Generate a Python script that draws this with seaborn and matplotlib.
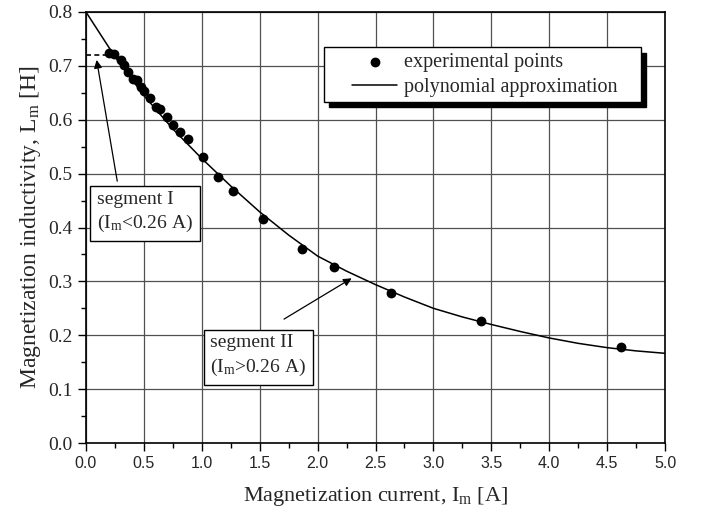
import numpy as np
import pandas as pd
import matplotlib
matplotlib.use("Agg")
import matplotlib.pyplot as plt
import seaborn as sns
from matplotlib.ticker import MultipleLocator
from matplotlib.patches import Rectangle

# ---------------- data ----------------
x_exp = [0.20, 0.245, 0.30, 0.328, 0.363, 0.405, 0.44, 0.472, 0.50, 0.55,
         0.607, 0.636, 0.70, 0.754, 0.81, 0.883, 1.01, 1.14, 1.266, 1.525,
         1.862, 2.138, 2.636, 3.41, 4.62]
y_exp = [0.724, 0.722, 0.710, 0.701, 0.688, 0.676, 0.673, 0.660, 0.654, 0.640,
         0.623, 0.620, 0.605, 0.590, 0.578, 0.564, 0.530, 0.493, 0.468, 0.415,
         0.361, 0.327, 0.278, 0.227, 0.178]

x_fit = [0.0, 0.25, 0.5, 0.75, 1.0, 1.25, 1.5, 1.75, 2.0, 2.25, 2.5,
         2.75, 3.0, 3.25, 3.5, 3.75, 4.0, 4.25, 4.5, 4.75, 5.0]
y_fit = [0.800, 0.717, 0.645, 0.583, 0.528, 0.477, 0.429, 0.386, 0.347, 0.319, 0.294,
         0.271, 0.250, 0.234, 0.220, 0.207, 0.195, 0.185, 0.177, 0.171, 0.1665]

seg1_level = 0.72
seg1_x = [0.0, 0.19]

x_ticks = [0.0, 0.5, 1.0, 1.5, 2.0, 2.5, 3.0, 3.5, 4.0, 4.5, 5.0]
y_ticks = [0.0, 0.1, 0.2, 0.3, 0.4, 0.5, 0.6, 0.7, 0.8]

df_exp = pd.DataFrame({"x": x_exp, "y": y_exp})
df_fit = pd.DataFrame({"x": x_fit, "y": y_fit})

# ---------------- style ----------------
sns.set_style("ticks")
plt.rcParams["font.family"] = ["Liberation Serif", "DejaVu Serif"]
plt.rcParams["mathtext.fontset"] = "custom"
plt.rcParams["mathtext.rm"] = "Liberation Serif"

fig = plt.figure(figsize=(7.03, 5.17), dpi=100)
ax = fig.add_axes([0.1223, 0.1431, 0.8237, 0.8337])

ax.set_xlim(0, 5.0)
ax.set_ylim(0, 0.8)

# grid
ax.set_xticks(x_ticks)
ax.set_yticks(y_ticks)
ax.xaxis.set_minor_locator(MultipleLocator(0.25))
ax.yaxis.set_minor_locator(MultipleLocator(0.05))
ax.grid(True, which="major", color="#505050", linewidth=0.9)
ax.set_axisbelow(True)

# curve and points
sns.lineplot(data=df_fit, x="x", y="y", ax=ax, color="black", linewidth=1.1,
             label="polynomial approximation", zorder=3)
sns.scatterplot(data=df_exp, x="x", y="y", ax=ax, color="black", s=50,
                edgecolor="black", linewidth=0, label="experimental points", zorder=4)

# dashed segment I line
ax.plot(seg1_x, [seg1_level, seg1_level], color="black", linestyle=(0, (3, 2)),
        linewidth=1.2, zorder=3)

# spines / ticks
for sp in ax.spines.values():
    sp.set_color("black")
    sp.set_linewidth(1.2)
ax.tick_params(axis="both", which="major", direction="out", length=6, width=1.0, color="black")
ax.tick_params(axis="both", which="minor", direction="out", length=3.5, width=1.0, color="black")

ax.set_xticklabels([f"{v:.1f}" for v in x_ticks],
                   fontfamily=["Liberation Sans", "DejaVu Sans"], fontsize=11.5)
ax.set_yticklabels([f"{v:.1f}" for v in y_ticks], fontsize=14)

ax.set_xlabel(r"Magnetization current, $\mathregular{I_m}$ [A]", fontsize=16, labelpad=10)
ax.set_ylabel(r"Magnetization inductivity, $\mathregular{L_m}$ [H]", fontsize=17, labelpad=4)

# legend frame with solid shadow
ax.add_patch(Rectangle((0.420, 0.779), 0.547, 0.126, transform=ax.transAxes,
                       facecolor="black", edgecolor="black", zorder=6, clip_on=False))
ax.add_patch(Rectangle((0.411, 0.792), 0.547, 0.126, transform=ax.transAxes,
                       facecolor="white", edgecolor="black", linewidth=1.0, zorder=6.5,
                       clip_on=False))

handles, labels = ax.get_legend_handles_labels()
order = [labels.index("experimental points"), labels.index("polynomial approximation")]
leg = ax.legend([handles[i] for i in order], [labels[i] for i in order],
                loc="upper left", bbox_to_anchor=(0.4594, 0.905),
                frameon=False, fontsize=14.5, handlelength=2.25, handletextpad=0.35,
                labelspacing=0.3, borderpad=0, borderaxespad=0)
leg.set_zorder(7)

# annotations
box = dict(boxstyle="square,pad=0.35", facecolor="white", edgecolor="black", linewidth=1.0)
arrow = dict(arrowstyle="-|>", color="black", linewidth=0.9, mutation_scale=12,
             shrinkA=0, shrinkB=0)

ax.annotate("", xy=(0.092, 0.711), xytext=(0.27, 0.486), arrowprops=arrow, zorder=5)
ax.text(0.095, 0.4278, "segment I\n(" + r"$\mathregular{I_m}$" + "<0.26 A)",
        fontsize=14, ha="left", va="center", bbox=box, linespacing=1.35, zorder=6)

ax.annotate("", xy=(2.294, 0.3057), xytext=(1.71, 0.230), arrowprops=arrow, zorder=5)
ax.text(1.075, 0.1615, "segment II\n(" + r"$\mathregular{I_m}$" + ">0.26 A)",
        fontsize=14, ha="left", va="center", bbox=box, linespacing=1.35, zorder=6)

fig.savefig("out.png", dpi=100)
